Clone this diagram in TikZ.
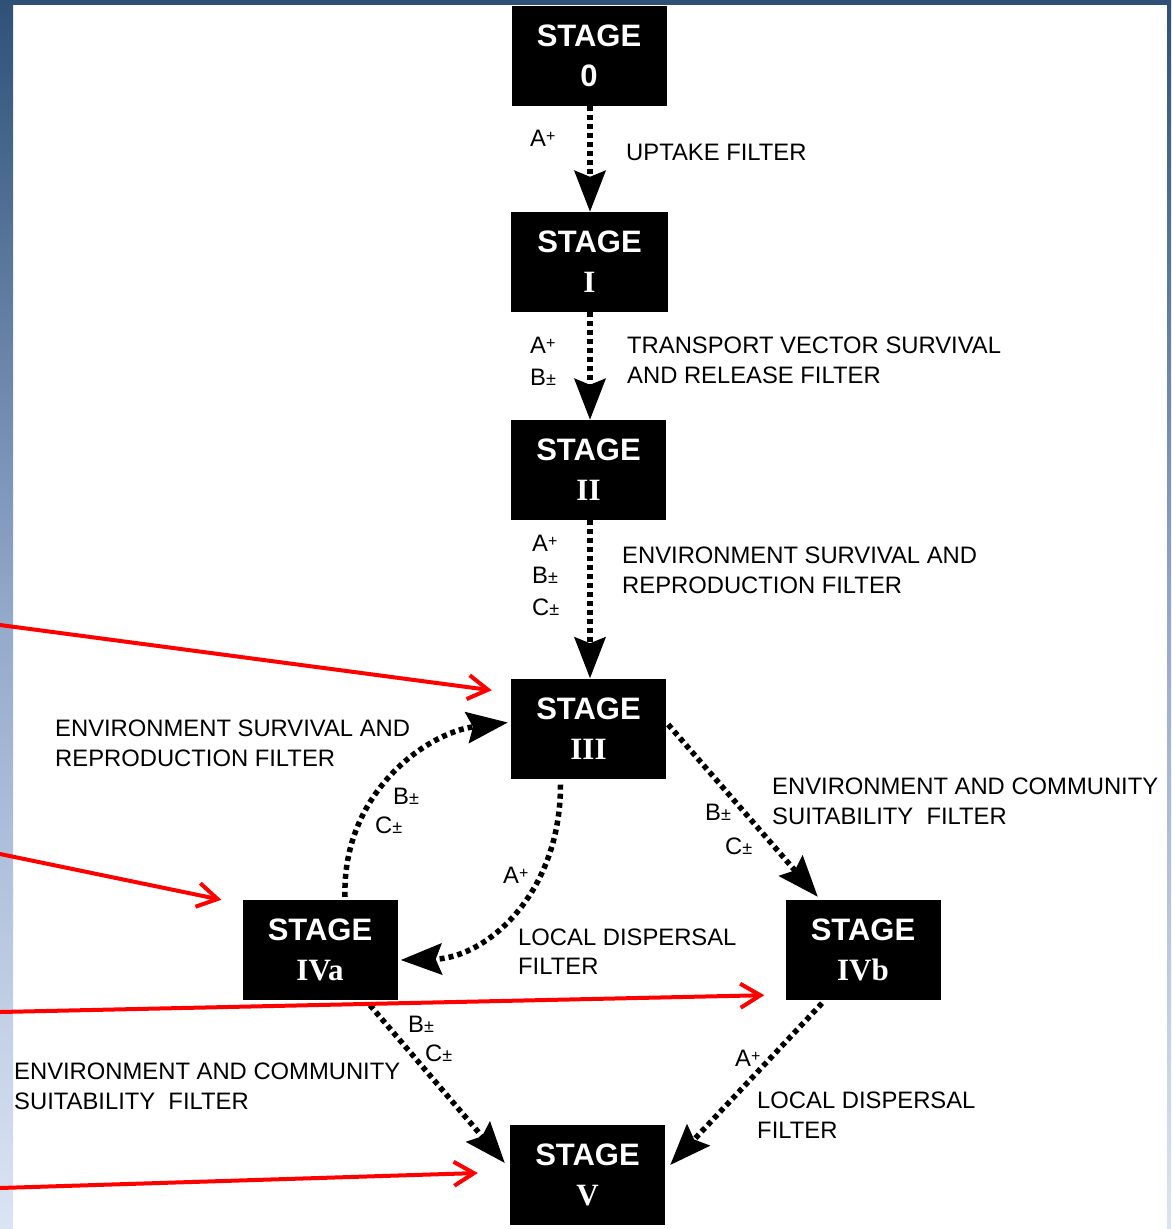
\documentclass[tikz,border=0pt]{standalone}
\usepackage{fontspec}
\setmainfont{Liberation Sans}
\newfontfamily\numfont{Liberation Serif}
\usetikzlibrary{arrows.meta}

\definecolor{frameTop}{HTML}{2F5178}
\definecolor{frameMid}{HTML}{93A9CB}
\definecolor{frameBot}{HTML}{DBE4F3}
\definecolor{ptrRed}{HTML}{FF0000}

% stage box content: sans "STAGE" over a serif bold numeral
\newcommand\stagetext[1]{STAGE\\{\numfont\bfseries #1}}
% marks set after a letter
\newcommand\plusmark{{\fontsize{16}{16}\selectfont\raisebox{5pt}{+}}}
\newcommand\pmmark{{\fontsize{18}{18}\selectfont\raisebox{0.5pt}{±}}}

\begin{document}
\begin{tikzpicture}[x=1pt,y=-1pt,
  stagebox/.style={fill=black, text=white, minimum width=155pt, minimum height=100pt,
    inner sep=0pt, align=center, font=\fontsize{31}{40}\selectfont\bfseries},
  flow/.style={line width=5.5pt, dash pattern=on 5pt off 4pt,
    -{Stealth[length=41pt,width=31pt,inset=6pt]}},
  lbl/.style={anchor=base west, inner sep=0pt, font=\fontsize{23.8}{28}\selectfont},
  pointer/.style={ptrRed, line width=4pt, line cap=round,
    -{Straight Barb[length=20pt,width=24pt,line width=4pt]}}
]
\useasboundingbox (0,0) rectangle (1171,1229);
\fill[white] (0,0) rectangle (1171,1229);

% slide frame
\shade[top color=frameTop, bottom color=frameBot, middle color=frameMid] (0,0) rectangle (13,1229);
\shade[top color=frameTop, bottom color=frameBot, middle color=frameMid] (1167,0) rectangle (1171,1229);

% stages
\node[stagebox] (s0) at (589,56) {STAGE\\0};
\fill[frameTop] (0,0) rectangle (1171,5);
\node[stagebox, minimum width=157pt] (s1) at (589.5,262) {\stagetext{I}};
\node[stagebox] (s2) at (588.5,470) {\stagetext{II}};
\node[stagebox] (s3) at (588.5,728.5) {\stagetext{III}};
\node[stagebox] (s4a) at (320,950) {\stagetext{IVa}};
\node[stagebox] (s4b) at (863,950) {\stagetext{IVb}};
\node[stagebox] (s5) at (587.5,1175) {\stagetext{V}};

% filters between stages
\draw[flow] ([xshift=1pt]s0.south) -- ([xshift=0.5pt]s1.north);
\draw[flow] ([xshift=0.5pt]s1.south) -- ([xshift=1.5pt]s2.north);
\draw[flow] ([xshift=1.5pt]s2.south) -- ([xshift=1.5pt]s3.north);
\draw[flow] ([shift={(-28,6)}]s3.south) .. controls +(0,110) and +(85,-2) .. ([shift={(3,10)}]s4a.east);
\draw[flow] ([shift={(25,-3)}]s4a.north) .. controls +(-3,-105) and +(-80,10) .. ([shift={(-3,-6)}]s3.west);
\draw[flow] ([shift={(2,-4)}]s3.east) -- ([shift={(32.5,-3)}]s4b.north west);
\draw[flow] ([shift={(50,5)}]s4a.south) -- ([shift={(-5,-12)}]s5.west);
\draw[flow] ([shift={(-41,3)}]s4b.south) -- ([shift={(5,-10)}]s5.east);

% labels: stage 0 to I
\node[lbl] (a01) at (530,146.5) {A\plusmark};
\node[lbl] (f01) at (626,160.5) {UPTAKE FILTER};
% stage I to II
\node[lbl] (a12) at (530,353.5) {A\plusmark};
\node[lbl] (b12) at (530,385.5) {B\pmmark};
\node[lbl] (f12a) at (627,353.5) {TRANSPORT VECTOR SURVIVAL};
\node[lbl] (f12b) at (627,383.5) {AND RELEASE FILTER};
% stage II to III
\node[lbl] (a23) at (532,551.5) {A\plusmark};
\node[lbl] (b23) at (532,583.5) {B\pmmark};
\node[lbl] (c23) at (532,615.5) {C\pmmark};
\node[lbl] (f23a) at (622,563.5) {ENVIRONMENT SURVIVAL AND};
\node[lbl] (f23b) at (622,593.5) {REPRODUCTION FILTER};
% stage IVa back to III
\node[lbl] (f43a) at (55,736.5) {ENVIRONMENT SURVIVAL AND};
\node[lbl] (f43b) at (55,766.5) {REPRODUCTION FILTER};
\node[lbl] (b43) at (393,804.5) {B\pmmark};
\node[lbl] (c43) at (375,833.5) {C\pmmark};
% stage III to IVa
\node[lbl] (a34) at (503,883.5) {A\plusmark};
\node[lbl] (f34a) at (518,945.5) {LOCAL DISPERSAL};
\node[lbl] (f34b) at (518,974.5) {FILTER};
% stage III to IVb
\node[lbl] (f3ba) at (772,794.5) {ENVIRONMENT AND COMMUNITY};
\node[lbl] (f3bb) at (772,824.5) {SUITABILITY\ \ FILTER};
\node[lbl] (b3b) at (705,820.5) {B\pmmark};
\node[lbl] (c3b) at (725,854.5) {C\pmmark};
% stage IVa to V
\node[lbl] (f45a) at (14,1079.5) {ENVIRONMENT AND COMMUNITY};
\node[lbl] (f45b) at (14,1109.5) {SUITABILITY\ \ FILTER};
\node[lbl] (b45) at (408,1032.5) {B\pmmark};
\node[lbl] (c45) at (425,1061.5) {C\pmmark};
% stage IVb to V
\node[lbl] (ab5) at (735,1066.5) {A\plusmark};
\node[lbl] (fb5a) at (757,1108.5) {LOCAL DISPERSAL};
\node[lbl] (fb5b) at (757,1138.5) {FILTER};

% red pointers from the left edge
\coordinate (p1) at (0,625);
\coordinate (p2) at (0,854);
\coordinate (p3) at (0,1012);
\coordinate (p4) at (0,1188);
\draw[pointer] (p1) -- ([shift={(-19,12)}]s3.north west);
\draw[pointer] (p2) -- ([shift={(-21,0)}]s4a.north west);
\draw[pointer] (p3) -- ([shift={(-21,-5)}]s4b.south west);
\draw[pointer] (p4) -- ([shift={(-32,-2)}]s5.west);
\end{tikzpicture}
\end{document}
